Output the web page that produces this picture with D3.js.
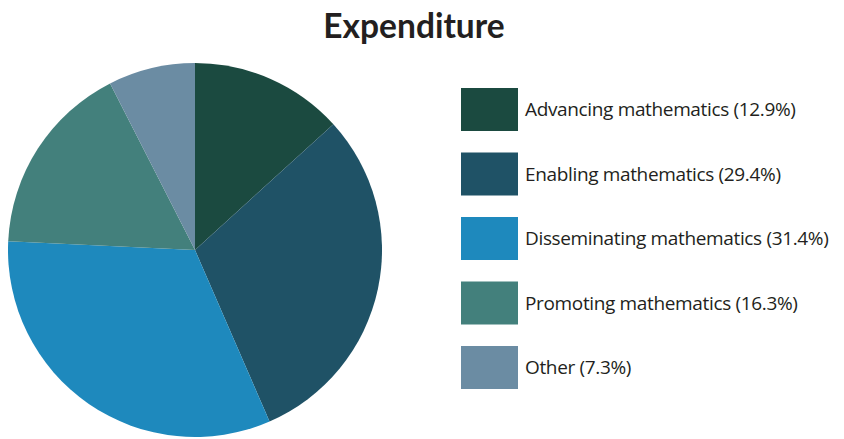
<!DOCTYPE html>
<html>
<head>
<meta charset="utf-8">
<script src="https://cdn.jsdelivr.net/npm/d3@7"></script>
<style>
  body { margin: 0; background: #fff; }
  svg { display: block; }
</style>
</head>
<body>
<div id="chart"></div>
<script>
// ---- Data ----
const categories = [
  "Advancing mathematics",
  "Enabling mathematics",
  "Disseminating mathematics",
  "Promoting mathematics",
  "Other"
];
const shares = [12.9, 29.4, 31.4, 16.3, 7.3];
const colors = ["#1b4a40", "#1f5266", "#1e89bd", "#43807c", "#6b8ca3"];

const data = categories.map((name, i) => ({ name, value: shares[i] }));

const W = 844, H = 439;
const svg = d3.select("#chart").append("svg")
  .attr("width", W).attr("height", H);

// ---- Title ----
svg.append("text")
  .attr("x", 414).attr("y", 38)
  .attr("text-anchor", "middle")
  .style("font-family", "Lato, sans-serif")
  .style("font-weight", "700")
  .style("font-size", "33.5px")
  .style("fill", "#231f20")
  .text("Expenditure");

// ---- Pie (slices run clockwise from 12 o'clock) ----
const color = d3.scaleOrdinal().domain(categories).range(colors);
const pie = d3.pie().value(d => d.value).sort(null);
const arc = d3.arc().innerRadius(0).outerRadius(187);

const g = svg.append("g").attr("transform", "translate(195,250)");
g.selectAll("path")
  .data(pie(data))
  .join("path")
  .attr("d", arc)
  .attr("fill", d => color(d.data.name));

// ---- Legend ----
const legend = svg.append("g").attr("transform", "translate(461,88)");
const row = legend.selectAll("g")
  .data(data)
  .join("g")
  .attr("transform", (d, i) => `translate(0,${i * 64.5})`);

row.append("rect")
  .attr("width", 57).attr("height", 43)
  .attr("fill", d => color(d.name));

row.append("text")
  .attr("x", 64).attr("y", 23)
  .attr("dominant-baseline", "middle")
  .style("font-family", "'Open Sans', sans-serif")
  .style("font-size", "19px")
  .style("letter-spacing", "-0.35px")
  .style("fill", "#231f20")
  .text(d => `${d.name} (${d.value}%)`);
</script>
</body>
</html>
